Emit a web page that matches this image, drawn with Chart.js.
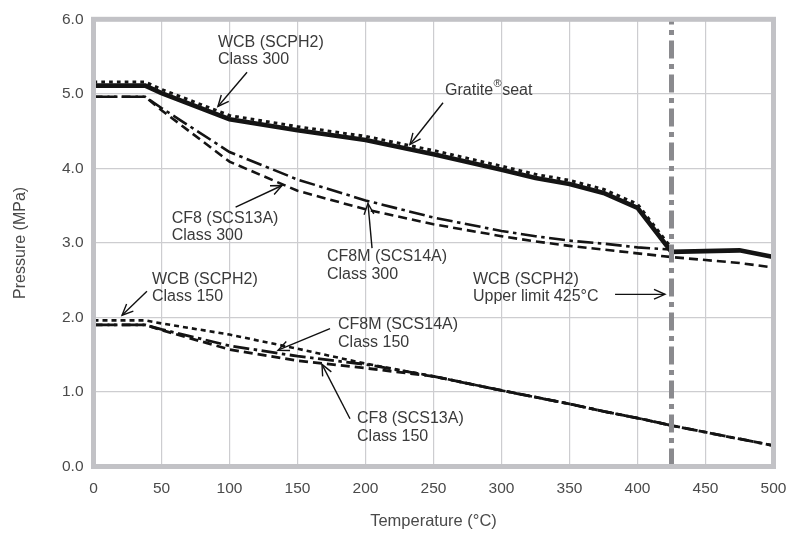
<!DOCTYPE html>
<html><head><meta charset="utf-8">
<script src="https://cdn.jsdelivr.net/npm/chart.js@4/dist/chart.umd.min.js"></script>
<style>html,body{margin:0;padding:0;background:#fff}canvas{display:block}</style>
</head><body>
<canvas id="c" width="800" height="536"></canvas>
<script>
// ---- data ----
const temps = [0, 38, 50, 100, 150, 200, 250, 300, 325, 350, 375, 400, 425, 450, 475, 500];
const gratiteTemps = [0, 38, 50, 100, 150, 200, 250, 300, 325, 350, 375, 400, 425, 475, 500];
const gratiteSeat = [5.11, 5.11, 5.01, 4.66, 4.51, 4.38, 4.19, 3.98, 3.87, 3.79, 3.67, 3.47, 2.88, 2.90, 2.81];
const wcb300 = [5.16, 5.16, 5.06, 4.71, 4.56, 4.43, 4.24, 4.03, 3.92, 3.84, 3.72, 3.52, 2.93];
const cf8_300 = [4.96, 4.96, 4.78, 4.09, 3.70, 3.45, 3.25, 3.09, 3.02, 2.96, 2.91, 2.86, 2.81, 2.77, 2.73, 2.67];
const cf8m_300 = [4.96, 4.96, 4.81, 4.22, 3.85, 3.57, 3.34, 3.16, 3.09, 3.03, 2.99, 2.94, 2.91];
const wcb150 = [1.96, 1.96, 1.92, 1.77, 1.58, 1.38, 1.21, 1.02, 0.93, 0.84, 0.74, 0.65, 0.55];
const cf8m_150 = [1.90, 1.90, 1.84, 1.62, 1.48, 1.37, 1.21, 1.02, 0.93, 0.84, 0.74, 0.65, 0.55, 0.46, 0.37, 0.28];
const cf8_150 = [1.90, 1.90, 1.83, 1.57, 1.42, 1.32, 1.21, 1.02, 0.93, 0.84, 0.74, 0.65, 0.55, 0.46, 0.37, 0.28];
const upperLimitTemp = 425;
const upperLimitSpan = [0, 6];
const xTicks = [0, 50, 100, 150, 200, 250, 300, 350, 400, 450, 500];
const yTicks = [0, 1, 2, 3, 4, 5, 6];

// annotation texts
const labelWcb300 = ['WCB (SCPH2)', 'Class 300'];
const labelCf8_300 = ['CF8 (SCS13A)', 'Class 300'];
const labelCf8m_300 = ['CF8M (SCS14A)', 'Class 300'];
const labelWcb150 = ['WCB (SCPH2)', 'Class 150'];
const labelCf8m_150 = ['CF8M (SCS14A)', 'Class 150'];
const labelCf8_150 = ['CF8 (SCS13A)', 'Class 150'];
const labelLimit = ['WCB (SCPH2)', 'Upper limit 425°C'];

const zip = (xs, ys) => ys.map((y, i) => ({x: xs[i], y}));

const FONT = '"Liberation Sans", Arial, Helvetica, sans-serif';
const TXT = '#3a3a3a';

// annotation placement (in data units: °C, MPa)
const notes = [
  {lines: labelWcb300, at: [91.5, 5.69], from: [112.9, 5.29], to: [91.5, 4.83]},
  {lines: labelCf8_300, at: [57.5, 3.33], from: [104.5, 3.48], to: [138.6, 3.77]},
  {lines: labelCf8m_300, at: [171.7, 2.81], from: [204.8, 2.93], to: [201.8, 3.53]},
  {lines: labelWcb150, at: [43.0, 2.51], from: [39.3, 2.35], to: [21.0, 2.03]},
  {lines: labelCf8m_150, at: [179.8, 1.90], from: [173.9, 1.85], to: [135.7, 1.56]},
  {lines: labelCf8_150, at: [193.8, 0.64], from: [188.6, 0.64], to: [168.0, 1.37]},
  {lines: labelLimit, at: [279.0, 2.51], from: [383.5, 2.31], to: [420.2, 2.31]}
];
const gratiteNote = {at: [258.5, 5.05], from: [257.0, 4.88], to: [232.7, 4.32]};

function arrow(ctx, x1, y1, x2, y2) {
  ctx.save();
  ctx.strokeStyle = '#111';
  ctx.lineWidth = 1.4;
  ctx.beginPath(); ctx.moveTo(x1, y1); ctx.lineTo(x2, y2); ctx.stroke();
  const a = Math.atan2(y2 - y1, x2 - x1), L = 12, h = 0.42;
  ctx.beginPath();
  ctx.moveTo(x2 - L * Math.cos(a - h), y2 - L * Math.sin(a - h));
  ctx.lineTo(x2, y2);
  ctx.lineTo(x2 - L * Math.cos(a + h), y2 - L * Math.sin(a + h));
  ctx.stroke();
  ctx.restore();
}

const decor = {
  id: 'decor',
  afterDatasetsDraw(chart) {
    const {ctx, chartArea: ca, scales: {x, y}} = chart;
    ctx.save();
    // frame
    ctx.strokeStyle = '#c2c2c6';
    ctx.lineWidth = 5;
    ctx.strokeRect(ca.left, ca.top, ca.right - ca.left, ca.bottom - ca.top);
    // labels
    ctx.fillStyle = TXT;
    ctx.font = '16px ' + FONT;
    ctx.textBaseline = 'middle';
    ctx.textAlign = 'left';
    notes.forEach(n => {
      const px = x.getPixelForValue(n.at[0]), py = y.getPixelForValue(n.at[1]);
      n.lines.forEach((t, i) => ctx.fillText(t, px, py + i * 17.5));
      arrow(ctx, x.getPixelForValue(n.from[0]), y.getPixelForValue(n.from[1]),
                 x.getPixelForValue(n.to[0]), y.getPixelForValue(n.to[1]));
    });
    // Gratite seat label with superscript mark
    let gx = x.getPixelForValue(gratiteNote.at[0]);
    const gy = y.getPixelForValue(gratiteNote.at[1]);
    ctx.fillText('Gratite', gx, gy);
    gx += ctx.measureText('Gratite').width + 0.5;
    ctx.font = '11px ' + FONT;
    ctx.fillText('®', gx, gy - 6);
    gx += ctx.measureText('®').width + 0.5;
    ctx.font = '16px ' + FONT;
    ctx.fillText('seat', gx, gy);
    arrow(ctx, x.getPixelForValue(gratiteNote.from[0]), y.getPixelForValue(gratiteNote.from[1]),
               x.getPixelForValue(gratiteNote.to[0]), y.getPixelForValue(gratiteNote.to[1]));
    ctx.restore();
  }
};

const DASH = [9, 5], DASHDOT = [16, 4.5, 3.5, 4.5];
const base = {fill: false, pointRadius: 0, tension: 0, borderColor: '#141414', borderCapStyle: 'butt', borderJoinStyle: 'miter'};

new Chart(document.getElementById('c'), {
  type: 'line',
  data: {
    datasets: [
      Object.assign({}, base, {label: 'WCB Upper limit', data: zip([upperLimitTemp, upperLimitTemp], upperLimitSpan), borderColor: '#8a8a8e', borderWidth: 5, borderDash: [18, 5.5, 5, 5.5]}),
      Object.assign({}, base, {label: 'CF8 Class 150', data: zip(temps, cf8_150), borderWidth: 2.8, borderDash: DASH}),
      Object.assign({}, base, {label: 'CF8M Class 150', data: zip(temps, cf8m_150), borderWidth: 2.8, borderDash: DASHDOT}),
      Object.assign({}, base, {label: 'WCB Class 150', data: zip(temps, wcb150), borderWidth: 2.6, borderDash: [5, 4]}),
      Object.assign({}, base, {label: 'CF8 Class 300', data: zip(temps, cf8_300), borderWidth: 2.6, borderDash: DASH}),
      Object.assign({}, base, {label: 'CF8M Class 300', data: zip(temps, cf8m_300), borderWidth: 2.6, borderDash: DASHDOT}),
      Object.assign({}, base, {label: 'Gratite seat', data: zip(gratiteTemps, gratiteSeat), borderWidth: 4.6}),
      Object.assign({}, base, {label: 'WCB Class 300', data: zip(temps, wcb300), borderWidth: 3, borderDash: [3.7, 4.1]})
    ]
  },
  options: {
    responsive: false,
    animation: false,
    devicePixelRatio: 1,
    layout: {padding: {top: 13.5, right: 26.5, left: 0, bottom: 0}},
    plugins: {legend: {display: false}, tooltip: {enabled: false}},
    scales: {
      x: {
        type: 'linear', min: 0, max: 500,
        afterBuildTicks: s => { s.ticks = xTicks.map(v => ({value: v})); },
        afterFit: s => { s.height = 69.5; },
        grid: {color: '#cdcdd0', lineWidth: 1.2, drawTicks: false},
        border: {display: false},
        ticks: {padding: 13, color: '#4a4a4a', autoSkip: false, maxRotation: 0, font: {family: FONT, size: 15.5}},
        title: {display: true, text: 'Temperature (°C)', color: '#4a4a4a', font: {family: FONT, size: 16.5}, padding: {top: 0, bottom: 5}}
      },
      y: {
        type: 'linear', min: 0, max: 6,
        afterBuildTicks: s => { s.ticks = yTicks.map(v => ({value: v})); },
        afterFit: s => { s.width = 93.5; },
        grid: {color: '#cdcdd0', lineWidth: 1.2, drawTicks: false},
        border: {display: false},
        ticks: {padding: 10, color: '#4a4a4a', callback: v => Number(v).toFixed(1), font: {family: FONT, size: 15.5}},
        title: {display: true, text: 'Pressure (MPa)', color: '#4a4a4a', font: {family: FONT, size: 16}, padding: {top: 11, bottom: 0}}
      }
    }
  },
  plugins: [decor]
});
</script>
</body></html>
